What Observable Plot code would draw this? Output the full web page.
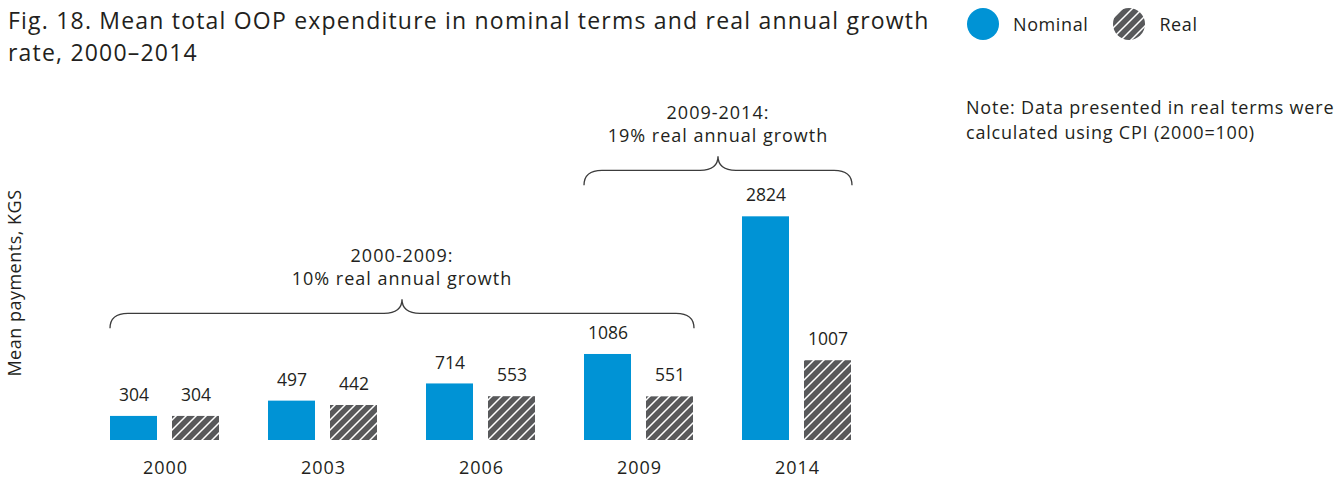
<!DOCTYPE html>
<html>
<head>
<meta charset="utf-8">
<script src="https://cdn.jsdelivr.net/npm/d3@7"></script>
<script src="https://cdn.jsdelivr.net/npm/@observablehq/plot@0.6"></script>
<style>
  html, body { margin: 0; padding: 0; background: #fff; }
  body { width: 1344px; height: 491px; position: relative; overflow: hidden; font-family: "Open Sans", sans-serif; color: #231f20; }
  .title { position: absolute; left: 8px; top: 5px; font-size: 23px; line-height: 31.5px; letter-spacing: 1.2px; white-space: nowrap; }
  .legend { position: absolute; left: 967px; top: 8px; display: flex; align-items: center; font-size: 18px; letter-spacing: 0.6px; }
  .legend span { margin-right: 25px; }
  .legend svg { margin-right: 14px; }
  .note { position: absolute; left: 966px; top: 95px; font-size: 18px; line-height: 25px; letter-spacing: 0.8px; white-space: nowrap; }
  .ylab { position: absolute; left: 14px; top: 283px; transform: translate(-50%, -50%) rotate(-90deg); font-size: 18px; letter-spacing: 0.5px; white-space: nowrap; }
  #chart { position: absolute; left: 0; top: 0; }
</style>
</head>
<body>
<svg width="0" height="0" style="position:absolute">
  <defs>
    <pattern id="hatch" patternUnits="userSpaceOnUse" width="10" height="10">
      <rect width="10" height="10" fill="#58595b"></rect>
      <path d="M-1,1 l2,-2 M0,10 l10,-10 M9,11 l2,-2" stroke="#ffffff" stroke-width="1.5"></path>
    </pattern>
  </defs>
</svg>
<div class="title">Fig. 18. Mean total OOP expenditure in nominal terms and real annual growth<br>rate, 2000–2014</div>
<div class="legend">
  <svg width="32" height="32"><circle cx="16" cy="16" r="16" fill="#0093d5"></circle></svg><span>Nominal</span>
  <svg width="32" height="32"><circle cx="16" cy="16" r="16" fill="url(#hatch)"></circle></svg><span>Real</span>
</div>
<div class="note">Note: Data presented in real terms were<br>calculated using CPI (2000=100)</div>
<div class="ylab">Mean payments, KGS</div>
<div id="chart"></div>
<script>
const years = ["2000", "2003", "2006", "2009", "2014"];
const nominal = [304, 497, 714, 1086, 2824];
const real = [304, 442, 553, 551, 1007];
const braceFrom = ["2000", "2009"];
const braceTo = ["2009", "2014"];
const braceLevel = [1410, 3215];
const braceLine1 = ["2000-2009:", "2009-2014:"];
const braceLine2 = ["10% real annual growth", "19% real annual growth"];

const BLUE = "#0093d5";
const TEXT = "#231f20";

const nomData = years.map((y, i) => ({year: y, series: "Nominal", value: nominal[i]}));
const realData = years.map((y, i) => ({year: y, series: "Real", value: real[i]}));
const all = nomData.concat(realData);

const plot = Plot.plot({
  width: 1344,
  height: 491,
  marginLeft: 108,
  marginRight: 490,
  marginTop: 0,
  marginBottom: 51,
  style: {fontFamily: "Open Sans, sans-serif", fontSize: "17px", color: TEXT, background: "transparent"},
  fx: {domain: years, paddingInner: 0.3008, paddingOuter: 0, label: null},
  x: {domain: ["Nominal", "Real"], paddingInner: 0.238, paddingOuter: 0, axis: null},
  y: {domain: [0, 5555], axis: null},
  marks: [
    Plot.barY(nomData, {fx: "year", x: "series", y: "value", fill: BLUE}),
    Plot.barY(realData, {fx: "year", x: "series", y: "value", fill: "url(#hatch)"}),
    Plot.text(all, {fx: "year", x: "series", y: "value", text: d => String(d.value), dy: -21, fill: TEXT, fontSize: 17.5, style: "letter-spacing:0.4px"}),
    Plot.axisFx({anchor: "bottom", tickSize: 0, tickPadding: 21, fontSize: 18, label: null, color: TEXT})
  ]
});
document.getElementById("chart").appendChild(plot);
d3.select(plot).selectAll("[aria-label='fx-axis tick label'] text, g[aria-label='fx-axis tick label']").style("letter-spacing", "1px");

// Braces and annotations, positioned through the plot's own scales
const fx = plot.scale("fx");
const ys = plot.scale("y");
const svg = d3.select(plot);
const g = svg.append("g").style("letter-spacing", "1px");
braceFrom.forEach((from, i) => {
  const x0 = fx.apply(from);
  const x1 = fx.apply(braceTo[i]) + fx.bandwidth;
  const xc = (x0 + x1) / 2;
  const yEnd = ys.apply(braceLevel[i]);
  const yMid = yEnd - 15;
  const yTip = yMid - 14;
  const r = 18;
  const d = `M${x0},${yEnd} Q${x0},${yMid} ${x0 + r},${yMid} L${xc - r},${yMid} Q${xc},${yMid} ${xc},${yTip} Q${xc},${yMid} ${xc + r},${yMid} L${x1 - r},${yMid} Q${x1},${yMid} ${x1},${yEnd}`;
  g.append("path").attr("d", d).attr("fill", "none").attr("stroke", "#3c3c3c").attr("stroke-width", 1.3);
  g.append("text").attr("x", xc).attr("y", yTip - 37).attr("text-anchor", "middle")
    .attr("font-size", 18).attr("fill", TEXT).text(braceLine1[i]);
  g.append("text").attr("x", xc).attr("y", yTip - 14).attr("text-anchor", "middle")
    .attr("font-size", 18).attr("fill", TEXT).text(braceLine2[i]);
});
</script>
</body>
</html>
